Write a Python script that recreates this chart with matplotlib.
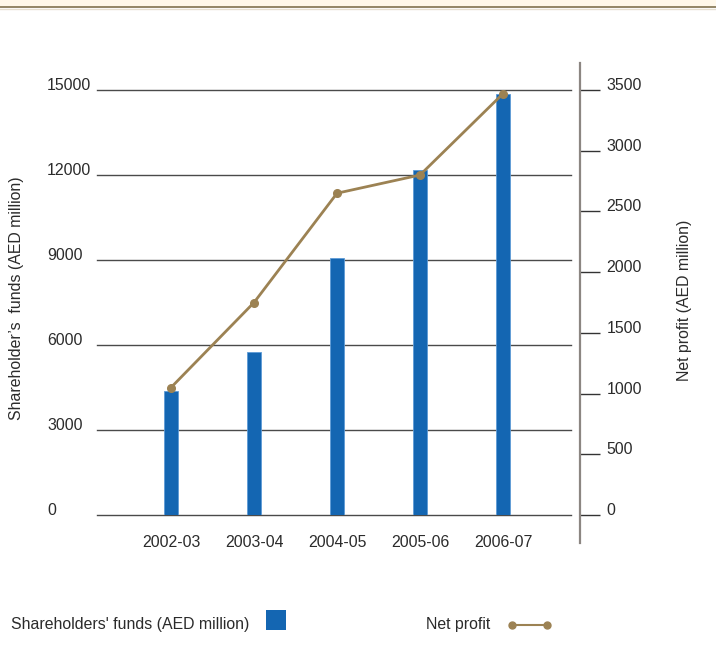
import matplotlib
matplotlib.use("Agg")
import matplotlib.pyplot as plt
from matplotlib.lines import Line2D
from matplotlib.patches import Rectangle

plt.rcParams['font.family'] = ['Liberation Sans', 'DejaVu Sans']

# Data
years = ["2002-03", "2003-04", "2004-05", "2005-06", "2006-07"]
shareholders_funds = [4380, 5750, 9070, 12180, 14860]
net_profit = [1050, 1750, 2650, 2800, 3470]
left_ticks = [0, 3000, 6000, 9000, 12000, 15000]
right_ticks = [0, 500, 1000, 1500, 2000, 2500, 3000, 3500]

BAR_COLOR = "#1466b2"
LINE_COLOR = "#9c8253"
TEXT_COLOR = "#2b2b2b"
FS = 11.4

W, H = 716, 659
fig = plt.figure(figsize=(W / 100, H / 100), dpi=100)

def fx(px):
    return px / W

def fy(py):
    return 1 - py / H

# Header band with rule
fig.add_artist(Rectangle((0, fy(7)), 1, 7 / H, transform=fig.transFigure,
                         facecolor="#fff8ea", edgecolor="none"))
fig.add_artist(Line2D([0, 1], [fy(7), fy(7)], transform=fig.transFigure,
                      color="#8a7d5c", lw=1.3))
fig.add_artist(Line2D([0, 1], [fy(8.5), fy(8.5)], transform=fig.transFigure,
                      color="#e6e0d2", lw=1))

left_px, right_px, top_px, bottom_px = 97, 571, 90, 515
ax = fig.add_axes([fx(left_px), fy(bottom_px), fx(right_px - left_px),
                   (bottom_px - top_px) / H])
x = list(range(len(years)))
ax.set_xlim(-0.892, 4.819)
ax.set_ylim(0, 15000)

for v in left_ticks:
    ax.axhline(v, color="#4a4a4a", lw=1.0, zorder=1, clip_on=False)

ax.bar(x, shareholders_funds, width=0.17, color=BAR_COLOR,
       edgecolor="#5d9bd6", linewidth=0.6, zorder=2)

for s in ax.spines.values():
    s.set_visible(False)

ax.set_xticks(x)
ax.set_xticklabels(years, fontsize=FS, color=TEXT_COLOR)
ax.tick_params(axis="x", length=0, pad=14.5)
ax.set_yticks(left_ticks)
ax.set_yticklabels([str(v) for v in left_ticks], fontsize=FS, color=TEXT_COLOR,
                   ha="left", va="baseline")
ax.tick_params(axis="y", length=0, pad=36)

ax2 = ax.twinx()
ax2.set_ylim(0, 3500)
ax2.plot(x, net_profit, color=LINE_COLOR, lw=2, marker="o", ms=5.5,
         zorder=5, clip_on=False)
for side in ("top", "left", "bottom"):
    ax2.spines[side].set_visible(False)
ax2.spines["right"].set_position(("outward", 6.5))
ax2.spines["right"].set_color("#8c8682")
ax2.spines["right"].set_linewidth(1.6)
ax2.spines["right"].set_bounds(-231, 3722)
ax2.set_yticks(right_ticks)
ax2.set_yticklabels([str(v) for v in right_ticks], fontsize=FS,
                    color=TEXT_COLOR, va="baseline")
ax2.tick_params(axis="y", length=14.4, width=1, color="#333333", pad=4.5,
                direction="out")
ax.set_zorder(1)
ax2.set_zorder(2)
ax.patch.set_visible(False)

# Axis titles
fig.text(fx(17), fy(298), "Shareholder\u2019s  funds (AED million)", rotation=90,
         ha="center", va="center", fontsize=FS, color=TEXT_COLOR)
fig.text(fx(684), fy(300), "Net profit (AED million)", rotation=90,
         ha="center", va="center", fontsize=FS, color=TEXT_COLOR)

# Legend
fig.text(fx(11), fy(625), "Shareholders' funds (AED million)", ha="left",
         va="center", fontsize=FS, color=TEXT_COLOR)
fig.add_artist(Rectangle((fx(266), fy(630)), 20 / W, 20 / H,
                         transform=fig.transFigure, facecolor=BAR_COLOR,
                         edgecolor="none"))
fig.text(fx(426), fy(625), "Net profit", ha="left", va="center",
         fontsize=FS, color=TEXT_COLOR)
fig.add_artist(Line2D([fx(512), fx(547)], [fy(625), fy(625)],
                      transform=fig.transFigure, color=LINE_COLOR, lw=1.5,
                      marker="o", ms=5))

fig.savefig("out.png", dpi=100)
